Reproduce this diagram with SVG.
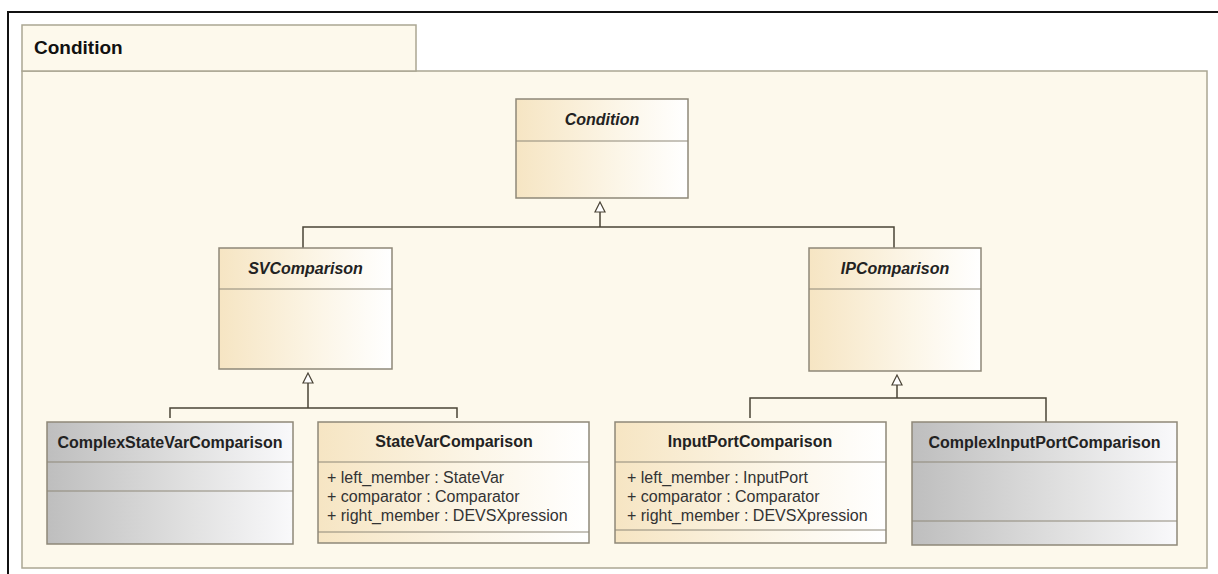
<svg xmlns="http://www.w3.org/2000/svg" width="1218" height="574" viewBox="0 0 1218 574">
<defs>
<linearGradient id="tan" x1="0" y1="0" x2="1" y2="0">
<stop offset="0" stop-color="#F6E5C3"/>
<stop offset="0.6" stop-color="#FCF6E8"/>
<stop offset="1" stop-color="#FFFFFF"/>
</linearGradient>
<linearGradient id="gray" x1="0" y1="0" x2="1" y2="0">
<stop offset="0" stop-color="#BEBEBE"/>
<stop offset="0.6" stop-color="#E2E2E2"/>
<stop offset="1" stop-color="#F9F9FB"/>
</linearGradient>
</defs>
<style>
.frame{fill:none;stroke:#111;stroke-width:2}
.pkg{fill:#FDF9EC;stroke:#ABA693;stroke-width:1.5}
.cls{stroke:#8E8878;stroke-width:1.5}
.div{stroke:#8E8878;stroke-width:1.2}
.tan{fill:url(#tan)}
.gray{fill:url(#gray)}
.pkgname{font-family:"Liberation Sans",Arial,sans-serif;font-weight:bold;font-size:19px;fill:#111}
.abs{font-family:"Liberation Sans",Arial,sans-serif;font-weight:bold;font-style:italic;font-size:16px;fill:#222;text-anchor:middle}
.name{font-family:"Liberation Sans",Arial,sans-serif;font-weight:bold;font-size:16px;fill:#222;text-anchor:middle}
.attr{font-family:"Liberation Sans",Arial,sans-serif;font-size:16px;fill:#333}
.con{fill:none;stroke:#4A4436;stroke-width:1.5}
.tri{fill:#FFFFFF;stroke:#4A4436;stroke-width:1.2}
</style>
<rect width="1218" height="574" fill="#FFFFFF"/>
<g id="package">
<rect class="pkg" x="22" y="71" width="1185" height="497"/>
<rect class="pkg" x="22" y="25" width="394" height="46"/>
<text class="pkgname" x="34" y="54">Condition</text>
</g>
<path class="frame" d="M8,574 V12 H1218"/>
<g id="connectors">
<path class="con" d="M600,212 V227 M303,248 V227 H894 V248"/>
<polygon class="tri" points="600,202 595,212 605,212"/>
<path class="con" d="M308,383 V408 M170,418 V408 H457 V418"/>
<polygon class="tri" points="308,373 303,383 313,383"/>
<path class="con" d="M897,385 V398 M750,418 V398 H1046 V422"/>
<polygon class="tri" points="897,375 892,385 902,385"/>
</g>
<g id="Condition">
<rect class="cls tan" x="516" y="99" width="172" height="99"/>
<line class="div" x1="516" y1="141" x2="688" y2="141"/>
<text class="abs" x="602" y="125">Condition</text>
</g>
<g id="SVComparison">
<rect class="cls tan" x="219" y="248" width="173" height="121"/>
<line class="div" x1="219" y1="289" x2="392" y2="289"/>
<text class="abs" x="305.5" y="274">SVComparison</text>
</g>
<g id="IPComparison">
<rect class="cls tan" x="809" y="248" width="172" height="123"/>
<line class="div" x1="809" y1="289" x2="981" y2="289"/>
<text class="abs" x="895" y="274">IPComparison</text>
</g>
<g id="ComplexStateVarComparison">
<rect class="cls gray" x="47" y="422" width="246" height="122"/>
<line class="div" x1="47" y1="462" x2="293" y2="462"/>
<line class="div" x1="47" y1="491" x2="293" y2="491"/>
<text class="name" x="170" y="448">ComplexStateVarComparison</text>
</g>
<g id="StateVarComparison">
<rect class="cls tan" x="318" y="422" width="271" height="121"/>
<line class="div" x1="318" y1="462" x2="589" y2="462"/>
<line class="div" x1="318" y1="532" x2="589" y2="532"/>
<text class="name" x="454" y="447">StateVarComparison</text>
<text class="attr" x="327" y="483">+ left_member : StateVar</text>
<text class="attr" x="327" y="502">+ comparator : Comparator</text>
<text class="attr" x="327" y="521">+ right_member : DEVSXpression</text>
</g>
<g id="InputPortComparison">
<rect class="cls tan" x="615" y="422" width="271" height="121"/>
<line class="div" x1="615" y1="462" x2="886" y2="462"/>
<line class="div" x1="615" y1="530" x2="886" y2="530"/>
<text class="name" x="750" y="447">InputPortComparison</text>
<text class="attr" x="627" y="483">+ left_member : InputPort</text>
<text class="attr" x="627" y="502">+ comparator : Comparator</text>
<text class="attr" x="627" y="521">+ right_member : DEVSXpression</text>
</g>
<g id="ComplexInputPortComparison">
<rect class="cls gray" x="912" y="422" width="265" height="123"/>
<line class="div" x1="912" y1="462" x2="1177" y2="462"/>
<line class="div" x1="912" y1="521" x2="1177" y2="521"/>
<text class="name" x="1044.5" y="448">ComplexInputPortComparison</text>
</g>
</svg>
